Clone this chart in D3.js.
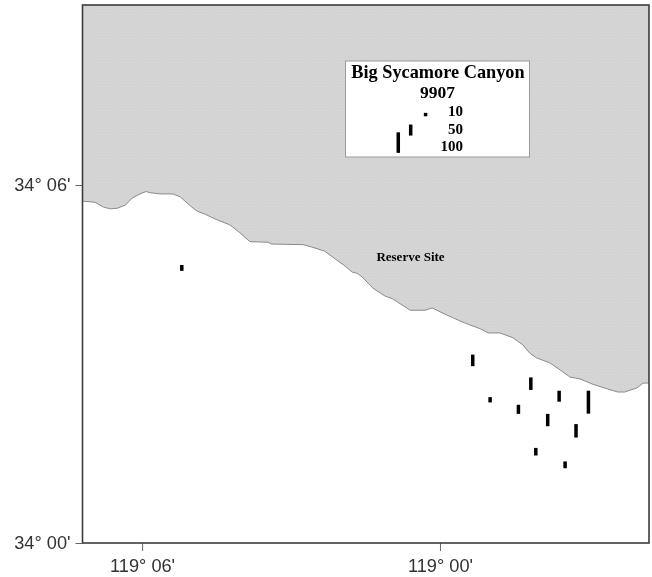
<!DOCTYPE html>
<html>
<head>
<meta charset="utf-8">
<script src="https://cdn.jsdelivr.net/npm/d3@7"></script>
<style>
  body { margin: 0; background: #fff; }
  svg { display: block; filter: blur(0.45px); }
</style>
</head>
<body>
<div id="map"></div>
<script>
// everything in arc minutes: lon = minutes west of 119 deg, lat = minutes north of 34 deg
const coastLon = [7.21, 6.95, 6.78, 6.64, 6.50, 6.34, 6.20, 6.04, 5.92, 5.84, 5.64, 5.38, 5.23, 5.03, 4.89, 4.73, 4.53, 4.23, 4.03, 3.83,
  3.46, 3.40, 2.76, 2.58, 2.32, 2.11, 1.91, 1.77, 1.67, 1.57, 1.35, 1.11, 0.95, 0.60, 0.30, 0.16, -0.14, -0.46, -0.81, -0.97,
  -1.21, -1.47, -1.67, -1.81, -1.95, -2.21, -2.42, -2.62, -2.82, -3.08, -3.38, -3.58, -3.72, -3.97, -4.09, -4.21];
const coastLat = [5.73, 5.71, 5.63, 5.60, 5.61, 5.66, 5.78, 5.85, 5.89, 5.87, 5.85, 5.85, 5.80, 5.65, 5.56, 5.51, 5.43, 5.33, 5.20, 5.05,
  5.04, 5.01, 5.00, 4.96, 4.89, 4.76, 4.64, 4.54, 4.52, 4.46, 4.27, 4.14, 4.09, 3.90, 3.90, 3.94, 3.82, 3.70, 3.59, 3.52,
  3.52, 3.44, 3.32, 3.18, 3.10, 3.02, 2.90, 2.78, 2.75, 2.66, 2.58, 2.53, 2.53, 2.60, 2.68, 2.68];

const stationLon = [5.20, -0.66, -1.01, -1.83, -1.58, -2.40, -2.99, -2.17, -2.74, -1.93, -2.52];
const stationLat = [4.61, 3.06, 2.40, 2.67, 2.24, 2.46, 2.36, 2.06, 1.88, 1.53, 1.31];
const stationCount = [23, 53, 20, 58, 40, 50, 113, 57, 63, 32, 28];

const legendValues = [10, 50, 100];
const legendLon = [0.29, 0.59, 0.84];
const legendLat = [7.18, 6.92, 6.71];

const lonTicks = [6, 0];
const lonTickLabels = ["119° 06'", "119° 00'"];
const latTicks = [0, 6];
const latTickLabels = ["34° 00'", "34° 06'"];

const width = 652;
const height = 577;
const plotLeft = 82.5, plotRight = 649, plotTop = 5, plotBottom = 543;

const x = d3.scaleLinear().domain([7.2, -4.21]).range([plotLeft, plotRight]);
const y = d3.scaleLinear().domain([0, 9.016]).range([plotBottom, plotTop]);
const barH = d3.scaleLinear().domain([0, 100]).range([1.5, 20.5]);

const svg = d3.select('#map')
  .append('svg')
  .attr('width', width)
  .attr('height', height);

// halftone look of the scanned land
const pattern = svg.append('defs').append('pattern')
  .attr('id', 'land')
  .attr('width', 3)
  .attr('height', 3)
  .attr('patternUnits', 'userSpaceOnUse');
pattern.append('rect').attr('width', 3).attr('height', 3).attr('fill', '#d5d5d5');
pattern.append('rect').attr('width', 1.5).attr('height', 1.5).attr('fill', '#d1d1d1');

const coast = d3.zip(coastLon, coastLat);

// land
svg.append('path')
  .attr('d', d3.area().x(d => x(d[0])).y0(plotTop).y1(d => y(d[1]))(coast))
  .attr('fill', 'url(#land)');

svg.append('path')
  .attr('d', d3.line().x(d => x(d[0])).y(d => y(d[1]))(coast))
  .attr('fill', 'none')
  .attr('stroke', '#8a8a8a')
  .attr('stroke-width', 1);

// axes
const xAxis = d3.axisBottom(x).tickValues(lonTicks).tickSize(8).tickPadding(8)
  .tickFormat((d, i) => lonTickLabels[i]);
const yAxis = d3.axisLeft(y).tickValues(latTicks).tickSize(7).tickPadding(5)
  .tickFormat((d, i) => latTickLabels[i]);

svg.append('g').attr('transform', `translate(0,${plotBottom})`).call(xAxis)
  .call(g => g.select('.domain').remove());
svg.append('g').attr('transform', `translate(${plotLeft},0)`).call(yAxis)
  .call(g => g.select('.domain').remove());

svg.selectAll('.tick line').attr('stroke', '#666').attr('stroke-width', 1);
svg.selectAll('.tick text')
  .attr('fill', '#333')
  .style('font-family', '"Liberation Sans", sans-serif')
  .style('font-size', '18.2px');

// frame
svg.append('rect')
  .attr('x', plotLeft)
  .attr('y', plotTop)
  .attr('width', plotRight - plotLeft)
  .attr('height', plotBottom - plotTop)
  .attr('fill', 'none')
  .attr('stroke', '#3c3c3c')
  .attr('stroke-width', 1.6);

// legend box
svg.append('rect')
  .attr('x', 345.5)
  .attr('y', 61)
  .attr('width', 184)
  .attr('height', 96)
  .attr('fill', '#fff')
  .attr('stroke', '#999')
  .attr('stroke-width', 1);

function serif(sel, size) {
  return sel.attr('fill', '#000')
    .style('font-family', '"Liberation Serif", serif')
    .style('font-weight', 'bold')
    .style('font-size', size + 'px');
}

svg.append('text').attr('x', 438).attr('y', 77.5).attr('text-anchor', 'middle')
  .text('Big Sycamore Canyon').call(serif, 18.3);
svg.append('text').attr('x', 437.5).attr('y', 98).attr('text-anchor', 'middle')
  .text('9907').call(serif, 17.5);

const legendLabelY = [115.5, 134, 151];
svg.selectAll('.leg-label')
  .data(legendValues)
  .enter()
  .append('text')
  .attr('class', 'leg-label')
  .attr('x', 463)
  .attr('y', (d, i) => legendLabelY[i])
  .attr('text-anchor', 'end')
  .text(d => d)
  .call(serif, 15);

svg.append('text').attr('x', 410.5).attr('y', 261).attr('text-anchor', 'middle')
  .text('Reserve Site').call(serif, 13);

// bars, centred on the station
function bars(sel, lon, lat, count) {
  sel.data(count)
    .enter()
    .append('rect')
    .attr('x', (d, i) => x(lon[i]) - 1.75)
    .attr('y', (d, i) => y(lat[i]) - barH(d) / 2)
    .attr('width', 3.5)
    .attr('height', d => barH(d))
    .attr('fill', '#000');
}

svg.append('g').selectAll('rect').call(bars, stationLon, stationLat, stationCount);
svg.append('g').selectAll('rect').call(bars, legendLon, legendLat, legendValues);
</script>
</body>
</html>
